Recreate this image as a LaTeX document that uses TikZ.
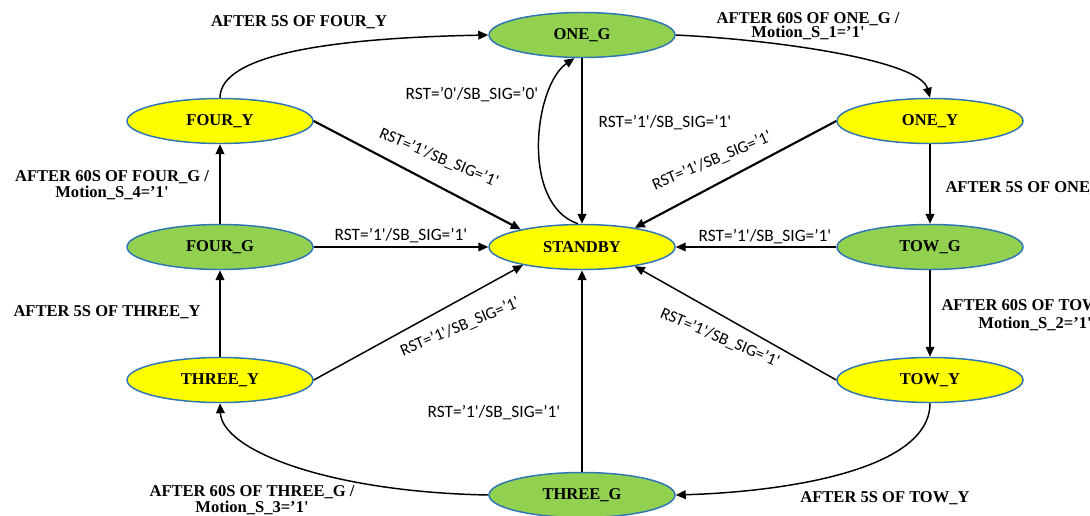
\documentclass[tikz,border=0pt]{standalone}
\usepackage{fontspec}
\setmainfont{Liberation Serif}[Ligatures=TeXOff]
\newfontfamily\rstfont{Carlito}[Ligatures=TeXOff]
\usetikzlibrary{shapes.geometric}
\usetikzlibrary{arrows.meta}
\definecolor{stateG}{RGB}{146,208,80}
\definecolor{stateY}{RGB}{255,255,0}
\definecolor{stateLine}{RGB}{46,117,182}
\tikzset{every picture/.style={line width=0.75pt}}
\tikzset{
  state/.style={ellipse, draw=stateLine, line width=1.1pt, minimum width=139.5pt, minimum height=33.75pt, inner sep=0pt, font=\fontsize{12.4}{14}\selectfont\bfseries},
  gstate/.style={state, fill=stateG},
  ystate/.style={state, fill=stateY},
  trans/.style={-{Triangle[length=7.5pt,width=6.5pt]}, line width=1.1pt},
  transb/.style={trans, line width=1.6pt},
  lbl/.style={inner sep=0.75pt, align=center, font=\fontsize{12.4}{12}\selectfont\bfseries},
  rst/.style={inner sep=0.75pt, font=\rstfont\fontsize{13}{14}\selectfont},
  rsts/.style={inner sep=0.75pt, font=\rstfont\fontsize{12.5}{14}\selectfont},
}

\begin{document}
\begin{tikzpicture}[x=0.75pt,y=0.75pt,yscale=-1,xscale=1]
\path[use as bounding box, clip] (0,0) rectangle (1090,515);

%Shape: Ellipse (states)
\node[gstate] (oneG) at (582,35) {ONE\_G};
\node[ystate] (oneY) at (930,121) {ONE\_Y};
\node[gstate] (towG) at (930,247) {TOW\_G};
\node[ystate] (towY) at (930,380) {TOW\_Y};
\node[gstate] (threeG) at (582,495) {THREE\_G};
\node[ystate] (threeY) at (220,380) {THREE\_Y};
\node[gstate] (fourG) at (220,247) {FOUR\_G};
\node[ystate] (fourY) at (220,121) {FOUR\_Y};
\node[ystate] (standby) at (582,247) {STANDBY};

%Curve Lines (outer cycle)
\draw[trans] (fourY.north) .. controls +(0,-43) and +(-159,3) .. (oneG.west);
\draw[trans] (oneG.east) .. controls +(104,5) and +(-10,-37) .. (oneY.north);
\draw[trans] (towY.south) .. controls +(0,68) and +(105,-3) .. (threeG.east);
\draw[trans] (threeG.west) .. controls +(-160,-3) and +(2,47) .. (threeY.south);
%Curve Lines (loop back)
\draw[trans] (standby.100) .. controls +(-58,-20) and +(-40,27) .. (oneG.252);

%Straight Lines (outer cycle)
\draw[transb] (oneY.south) -- (towG.north);
\draw[trans] (towG.south) -- (towY.north);
\draw[transb] (threeY.north) -- (fourG.south);
\draw[transb] (fourG.north) -- (fourY.south);

%Straight Lines (reset)
\draw[transb] (oneG.south) -- (standby.north);
\draw[transb] (threeG.north) -- (standby.south);
\draw[trans] (fourG.east) -- (standby.west);
\draw[trans] (towG.west) -- (standby.east);
\draw[transb] (fourY.east) -- (standby.164);
\draw[transb] (oneY.west) -- (standby.20);
\draw[trans] (threeY.east) -- (standby.197);
\draw[trans] (towY.west) -- (standby.340);

% Text Node
\node[lbl] (tFourY) at (299,22) {AFTER 5S OF FOUR\_Y};
% Text Node
\node[lbl, font=\fontsize{12.4}{10.5}\selectfont\bfseries] (tOneG) at (808,26) {AFTER 60S OF ONE\_G /\\Motion\_S\_1=’1'};
% Text Node
\node[lbl, anchor=west] (tOneY) at (944,188) {AFTER 5S OF ONE\_Y};
% Text Node
\node[lbl, anchor=west, font=\fontsize{12.4}{13.5}\selectfont\bfseries] (tTowG) at (940,315) {AFTER 60S OF TOW\_G /\\Motion\_S\_2=’1'};
% Text Node
\node[lbl] (tTowY) at (885,498) {AFTER 5S OF TOW\_Y};
% Text Node
\node[lbl, font=\fontsize{12.4}{12.4}\selectfont\bfseries] (tThreeG) at (252,500) {AFTER 60S OF THREE\_G /\\Motion\_S\_3=’1'};
% Text Node
\node[lbl] (tThreeY) at (107,312) {AFTER 5S OF THREE\_Y};
% Text Node
\node[lbl] (tFourG) at (112,185) {AFTER 60S OF FOUR\_G /\\Motion\_S\_4=’1'};

% Text Node
\node[rst] (rOneG) at (665,123) {RST=’1'/SB\_SIG=’1'};
% Text Node
\node[rst] (rLoop) at (472,95) {RST=’0'/SB\_SIG=’0'};
% Text Node
\node[rst] (rFourG) at (401,236) {RST=’1'/SB\_SIG=’1'};
% Text Node
\node[rst] (rTowG) at (765,237) {RST=’1'/SB\_SIG=’1'};
% Text Node
\node[rst] (rThreeG) at (494,413) {RST=’1'/SB\_SIG=’1'};
% Text Node
\node[rsts, rotate=-23] (rFourY) at (439,158) {RST=’1'/SB\_SIG=’1'};
% Text Node
\node[rsts, rotate=23] (rOneY) at (712,161) {RST=’1'/SB\_SIG=’1'};
% Text Node
\node[rsts, rotate=23] (rThreeY) at (460,327) {RST=’1'/SB\_SIG=’1'};
% Text Node
\node[rsts, rotate=-23] (rTowY) at (720,338) {RST=’1'/SB\_SIG=’1'};

\end{tikzpicture}
\end{document}
